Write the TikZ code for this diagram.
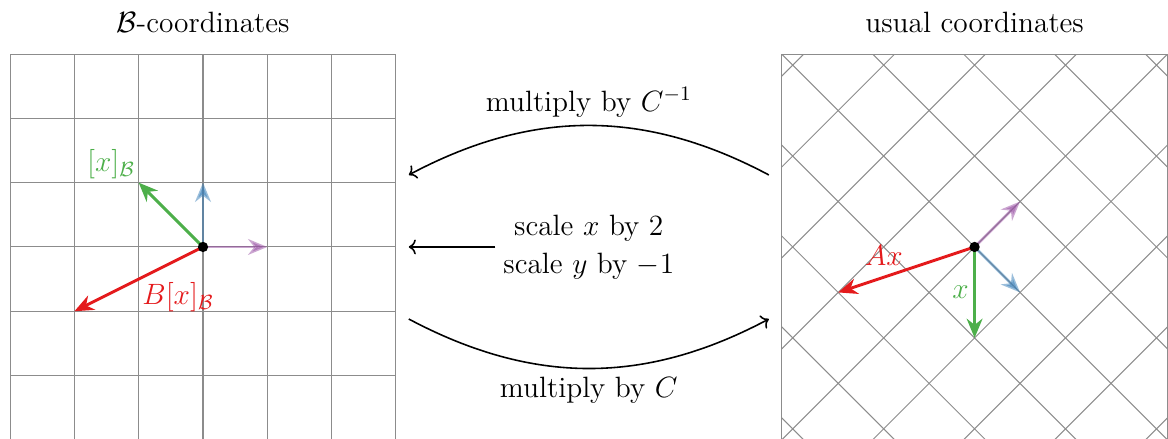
\RequirePackage{fix-cm}
\documentclass[tikz,border=0pt]{standalone}
\usepackage{amsmath, amssymb}
\usepackage{tikz}
\usetikzlibrary{arrows.meta, positioning, calc}
\usepackage{xcolor}
\definecolor{vecred}{HTML}{E41A1C}
\definecolor{vecgreen}{HTML}{4DAF4A}
\definecolor{vecblue}{HTML}{377EB8}
\definecolor{vecpurple}{HTML}{984EA3}
\definecolor{gridgray}{HTML}{8C8C8C}

\begin{document}
\begin{tikzpicture}[
    gridline/.style={gridgray, line width=0.45pt},
    vec/.style={-{Stealth[length=8.5pt, width=7pt]}, line width=1.3pt},
    maparrow/.style={->, line width=0.7pt},
    every node/.style={font=\fontsize{13}{16.8}\selectfont}
  ]
  \useasboundingbox (-3.157,-2.986) rectangle (15.008,3.841);

  % 1. B-coordinates
  \draw[gridline] (-3,-3) grid (3,3);
  \node[anchor=base] (btitle) at (0,3.33) {$\mathcal{B}$-coordinates};
  \coordinate (bo) at (0,0);
  \draw[vec, vecblue, opacity=0.5] (bo) -- ++(0,1);
  \draw[vec, vecpurple, opacity=0.5] (bo) -- ++(1,0);
  \draw[vec, vecgreen] (bo) -- ++(-1,1)
      node[above left, inner sep=1pt, text=vecgreen] (xb) {$[x]_{\mathcal{B}}$};
  \draw[vec, vecred] (bo) -- ++(-2,-1)
      node[midway, below right, inner sep=1pt, text=vecred] (bxb) {$B[x]_{\mathcal{B}}$};
  \fill (bo) circle (0.08);

  % 2. usual coordinates
  \begin{scope}[shift={(12,0)}]
    \clip (-3,-3) rectangle (3,3);
    \foreach \k in {-4,...,4} {
      \draw[gridline, rotate=45] (\k,-5) -- (\k,5) (-5,\k) -- (5,\k);
    }
  \end{scope}
  \draw[gridline] (9,-3) rectangle (15,3);
  \node[anchor=base] (utitle) at (12,3.33) {usual coordinates};
  \coordinate (uo) at (12,0);
  \draw[vec, vecpurple, opacity=0.5] (uo) -- ++(0.7071,0.7071);
  \draw[vec, vecblue, opacity=0.5] (uo) -- ++(0.7071,-0.7071);
  \draw[vec, vecgreen] (uo) -- ++(0,-1.4142)
      node[midway, left, inner sep=2pt, text=vecgreen] (xlab) {$x$};
  \draw[vec, vecred] (uo) -- ++(-2.1213,-0.7071)
      node[midway, above left, inner sep=1pt, text=vecred] (ax) {$Ax$};
  \fill (uo) circle (0.08);

  % 3. change of basis arrows
  \coordinate (tl) at (3.2,1.12);
  \coordinate (tr) at (8.8,1.12);
  \coordinate (bl) at (3.2,-1.12);
  \coordinate (br) at (8.8,-1.12);
  \coordinate (ml) at (3.2,0);
  \draw[maparrow] (tr) to[bend right=28]
      node[midway, above] (cinv) {multiply by $C^{-1}$} (tl);
  \draw[maparrow] (bl) to[bend right=28]
      node[midway, below] (cmul) {multiply by $C$} (br);
  \node[align=center] (scl) at (6,0) {scale $x$ by 2\\ scale $y$ by $-1$};
  \draw[maparrow] (scl.west) -- (ml);
\end{tikzpicture}
\end{document}
